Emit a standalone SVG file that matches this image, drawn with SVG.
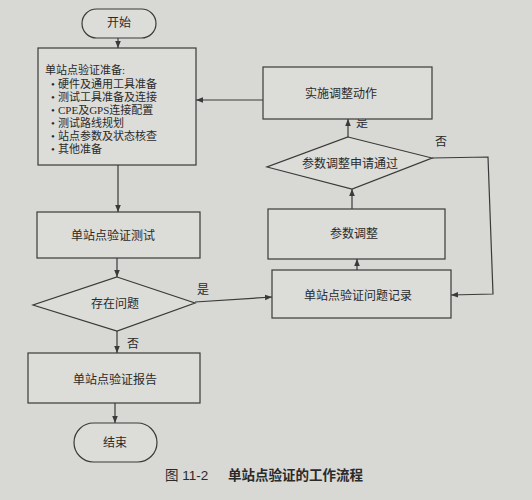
<svg xmlns="http://www.w3.org/2000/svg" width="532" height="500" viewBox="0 0 532 500">
<style>
.bg{fill:#d8d8d5}
.n{fill:#dcdcd9;stroke:#3a3a3a;stroke-width:1.2}
.c{fill:none;stroke:#3a3a3a;stroke-width:1.2}
.t{font-family:"Liberation Serif","Noto Sans CJK SC",serif;font-size:12px;fill:#2a2a2a;text-anchor:middle;dominant-baseline:central}
.l{font-family:"Liberation Serif","Noto Sans CJK SC",serif;font-size:11px;fill:#2a2a2a;dominant-baseline:central}
.cap{font-family:"Liberation Sans","Noto Sans CJK SC",sans-serif;font-size:13.5px;fill:#2a2a2a;dominant-baseline:central}
</style>
<defs>
<marker id="a" viewBox="0 0 10 10" refX="10" refY="5" markerWidth="7" markerHeight="7" orient="auto" markerUnits="userSpaceOnUse">
<path d="M0,1 L10,5 L0,9 Z" fill="#3a3a3a"/>
</marker>
</defs>
<rect class="bg" x="0" y="0" width="532" height="500"/>
<g id="connectors">
<line class="c" x1="118" y1="38" x2="118" y2="48" marker-end="url(#a)"/>
<line class="c" x1="118" y1="165" x2="118" y2="212" marker-end="url(#a)"/>
<line class="c" x1="117" y1="258" x2="117" y2="277" marker-end="url(#a)"/>
<line class="c" x1="195" y1="302" x2="272" y2="297" marker-end="url(#a)"/>
<line class="c" x1="117" y1="331" x2="117" y2="353" marker-end="url(#a)"/>
<line class="c" x1="115" y1="403" x2="115" y2="423" marker-end="url(#a)"/>
<line class="c" x1="357" y1="270" x2="357" y2="259" marker-end="url(#a)"/>
<line class="c" x1="352" y1="209" x2="352" y2="189" marker-end="url(#a)"/>
<line class="c" x1="348" y1="137" x2="348" y2="119" marker-end="url(#a)"/>
<line class="c" x1="263" y1="100" x2="196" y2="100" marker-end="url(#a)"/>
<polyline class="c" points="432,158 488,157 493,294 451,295" marker-end="url(#a)"/>
<text class="t" x="203" y="290">是</text>
<text class="t" x="133" y="344">否</text>
<text class="t" x="362" y="123">是</text>
<text class="t" x="441" y="142">否</text>
</g>
<g id="start">
<rect class="n" x="82" y="9" width="74" height="29" rx="14.5"/>
<text class="t" x="119" y="23">开始</text>
</g>
<g id="prep">
<rect class="n" x="38" y="48" width="158" height="117"/>
<text class="l" x="45" y="70">单站点验证准备:</text>
<text class="l" x="51" y="84">•</text><text class="l" x="58" y="84">硬件及通用工具准备</text>
<text class="l" x="51" y="97">•</text><text class="l" x="58" y="97">测试工具准备及连接</text>
<text class="l" x="51" y="110">•</text><text class="l" x="58" y="110">CPE及GPS连接配置</text>
<text class="l" x="51" y="123">•</text><text class="l" x="58" y="123">测试路线规划</text>
<text class="l" x="51" y="136">•</text><text class="l" x="58" y="136">站点参数及状态核查</text>
<text class="l" x="51" y="149">•</text><text class="l" x="58" y="149">其他准备</text>
</g>
<g id="test">
<rect class="n" x="37" y="212" width="163" height="46"/>
<text class="t" x="113" y="236">单站点验证测试</text>
</g>
<g id="problem">
<polygon class="n" points="117,277 195,303 117,331 33,305"/>
<text class="t" x="115" y="304">存在问题</text>
</g>
<g id="report">
<rect class="n" x="28" y="353" width="172" height="50"/>
<text class="t" x="115" y="380">单站点验证报告</text>
</g>
<g id="end">
<rect class="n" x="74" y="423" width="83" height="39" rx="19.5"/>
<text class="t" x="115" y="443">结束</text>
</g>
<g id="record">
<rect class="n" x="272" y="270" width="179" height="48"/>
<text class="t" x="358" y="296">单站点验证问题记录</text>
</g>
<g id="adjust">
<rect class="n" x="268" y="209" width="177" height="50"/>
<text class="t" x="354" y="234">参数调整</text>
</g>
<g id="approve">
<polygon class="n" points="348,137 432,158 352,189 267,167"/>
<text class="t" x="350" y="164">参数调整申请通过</text>
</g>
<g id="implement">
<rect class="n" x="263" y="67" width="169" height="52"/>
<text class="t" x="341" y="94">实施调整动作</text>
</g>
<g id="caption">
<text class="cap" x="165" y="475">图 11-2</text>
<text class="cap" x="228" y="475" font-weight="bold">单站点验证的工作流程</text>
</g>
</svg>
